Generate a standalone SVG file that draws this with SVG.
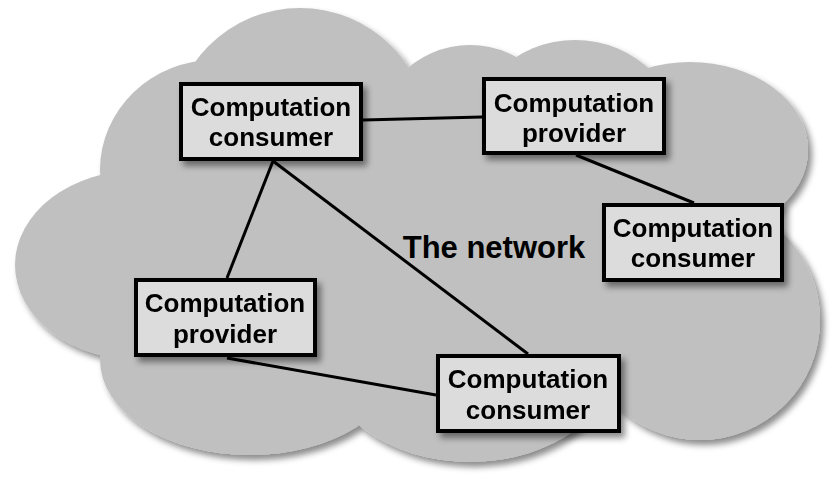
<svg xmlns="http://www.w3.org/2000/svg" width="837" height="479" viewBox="0 0 837 479">
<defs>
<filter id="sh" x="-10%" y="-10%" width="130%" height="130%">
<feGaussianBlur in="SourceAlpha" stdDeviation="3"/>
<feOffset dx="4" dy="5" result="b"/>
<feFlood flood-color="#000" flood-opacity="0.45"/>
<feComposite in2="b" operator="in"/>
<feMerge><feMergeNode/><feMergeNode in="SourceGraphic"/></feMerge>
</filter>
<style>
.box{fill:#dcdcdc;stroke:#000;stroke-width:4}
.t{font-family:"Liberation Sans",Arial,sans-serif;font-weight:bold;font-size:26px;fill:#000;text-anchor:middle}
.c{stroke:#000;stroke-width:3;fill:none}
.cl{fill:#c0c0c0}
</style>
</defs>
<rect width="837" height="479" fill="#fff"/>
<g id="cloud" filter="url(#sh)" class="cl">
<ellipse cx="300" cy="137" rx="129" ry="129"/>
<ellipse cx="215" cy="170" rx="115" ry="110"/>
<ellipse cx="470" cy="150" rx="100" ry="105"/>
<ellipse cx="575" cy="150" rx="110" ry="110"/>
<ellipse cx="690" cy="150" rx="118" ry="88"/>
<ellipse cx="140" cy="265" rx="125" ry="95"/>
<ellipse cx="250" cy="360" rx="150" ry="95"/>
<ellipse cx="470" cy="350" rx="150" ry="112"/>
<ellipse cx="700" cy="320" rx="120" ry="120"/>
<ellipse cx="440" cy="250" rx="310" ry="150"/>
</g>
<g id="connectors">
<line class="c" x1="363" y1="120" x2="482" y2="117"/>
<line class="c" x1="576" y1="155" x2="694" y2="203"/>
<line class="c" x1="273" y1="161" x2="227" y2="278"/>
<line class="c" x1="273" y1="161" x2="528" y2="354"/>
<line class="c" x1="227" y1="358" x2="436" y2="395"/>
</g>
<text class="t" x="494" y="258" style="font-size:31px">The network</text>
<g id="n1" filter="url(#sh)">
<rect class="box" x="181" y="84" width="180" height="75"/>
<text class="t" x="271" y="116">Computation</text>
<text class="t" x="271" y="146">consumer</text>
</g>
<g id="n2" filter="url(#sh)">
<rect class="box" x="484" y="79" width="180" height="74"/>
<text class="t" x="574" y="112">Computation</text>
<text class="t" x="574" y="142">provider</text>
</g>
<g id="n3" filter="url(#sh)">
<rect class="box" x="604" y="205" width="178" height="75"/>
<text class="t" x="693" y="237">Computation</text>
<text class="t" x="693" y="267">consumer</text>
</g>
<g id="n4" filter="url(#sh)">
<rect class="box" x="136" y="280" width="179" height="75"/>
<text class="t" x="225" y="312">Computation</text>
<text class="t" x="225" y="343">provider</text>
</g>
<g id="n5" filter="url(#sh)">
<rect class="box" x="438" y="356" width="181" height="75"/>
<text class="t" x="528" y="388">Computation</text>
<text class="t" x="528" y="419">consumer</text>
</g>
</svg>
